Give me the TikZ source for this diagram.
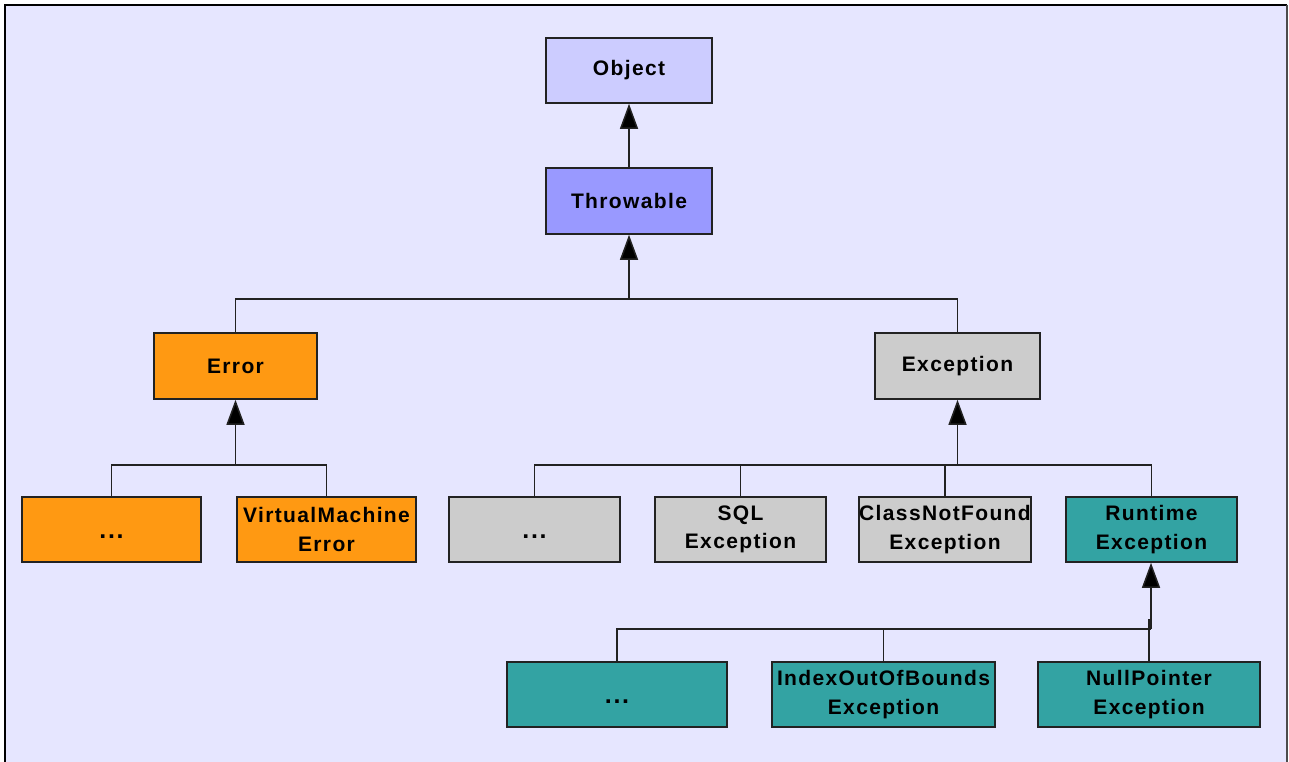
\documentclass[tikz,border=0pt]{standalone}
\usepackage{fontspec}
\setmainfont{Liberation Sans}
\newfontfamily\boxfont[LetterSpace=6.5]{Liberation Sans}
\usetikzlibrary{arrows.meta}
\definecolor{bg}{HTML}{E6E6FF}
\definecolor{objc}{HTML}{CCCCFF}
\definecolor{thrc}{HTML}{9999FF}
\definecolor{errc}{HTML}{FF9912}
\definecolor{excc}{HTML}{CCCCCC}
\definecolor{rtc}{HTML}{33A3A3}
\definecolor{edge}{HTML}{222222}
\newcommand{\boxdots}{\raisebox{-9pt}[0pt][0pt]{\fontsize{25}{28}\selectfont...}}
\tikzset{
  cls/.style={draw=edge, line width=1.6pt, inner sep=0pt, align=center,
    font=\boxfont\fontsize{21}{28.5}\selectfont\bfseries},
  link/.style={draw=edge, line width=1.5pt},
  inh/.style={link, -{Triangle[width=18pt,length=25pt,fill=black]}},
}
\begin{document}
\begin{tikzpicture}[x=1pt,y=-1pt]
\useasboundingbox (0,0) rectangle (1289,762);
\fill[white] (0,0) rectangle (1289,762);
\fill[bg] (5,5) rectangle (1287,762);
\draw[black, line width=2pt] (5,762) -- (5,5) -- (1287,5);
\draw[black!70, line width=2pt] (1287,5) -- (1287,762);

% row 1-2
\node[cls, fill=objc, minimum width=166pt, minimum height=65pt] (obj) at (629,70.5) {Object};
\node[cls, fill=thrc, minimum width=166pt, minimum height=66pt] (thr) at (629,201) {Throwable};
% row 3
\node[cls, fill=errc, minimum width=163pt, minimum height=66pt] (err) at (235.5,366) {Error};
\node[cls, fill=excc, minimum width=165pt, minimum height=66pt] (exc) at (957.5,366) {Exception};
% row 4
\node[cls, fill=errc, minimum width=179pt, minimum height=65pt] (edots) at (111.5,529.5) {\boxdots};
\node[cls, fill=errc, minimum width=179pt, minimum height=65pt] (vme) at (326.5,529.5) {VirtualMachine\\Error};
\node[cls, fill=excc, minimum width=171pt, minimum height=65pt] (xdots) at (534.5,529.5) {\boxdots};
\node[cls, fill=excc, minimum width=171pt, minimum height=65pt] (sql) at (740.5,529.5) {SQL\\Exception};
\node[cls, fill=excc, minimum width=172pt, minimum height=65pt] (cnf) at (945,529.5) {ClassNotFound\\Exception};
\node[cls, fill=rtc, minimum width=171pt, minimum height=65pt] (rt) at (1151.5,529.5) {Runtime\\Exception};
% row 5
\node[cls, fill=rtc, minimum width=220pt, minimum height=65pt] (rdots) at (617,694.5) {\boxdots};
\node[cls, fill=rtc, minimum width=223pt, minimum height=65pt] (ioob) at (883.5,694.5) {IndexOutOfBounds\\Exception};
\node[cls, fill=rtc, minimum width=222pt, minimum height=65pt] (npe) at (1149,694.5) {NullPointer\\Exception};

% junctions
\coordinate (j1) at (629,299);
\coordinate (j2) at (235.5,465);
\coordinate (j3) at (957.5,465);
\coordinate (j4) at (1151,629);

% connectors
\draw[inh] (thr.north) -- (obj.south);
\draw[link] (err.north) |- (j1);
\draw[link] (exc.north) |- (j1);
\draw[inh] (j1) -- (thr.south);

\draw[link] (edots.north) |- (j2);
\draw[link] (vme.north) |- (j2);
\draw[inh] (j2) -- (err.south);

\draw[link] (xdots.north) |- (j3);
\draw[link] (sql.north |- j3) -- (sql.north);
\draw[link] (cnf.north |- j3) -- (cnf.north);
\draw[link] (rt.north) |- (j3);
\draw[inh] (j3) -- (exc.south);

\draw[link] (rdots.north) |- (j4);
\draw[link] (ioob.north |- j4) -- (ioob.north);
\draw[link] (npe.north) -- (npe.north |- j4) -- ++(0,-10);
\draw[inh] (j4) -- (rt.south -| j4);
\end{tikzpicture}
\end{document}
